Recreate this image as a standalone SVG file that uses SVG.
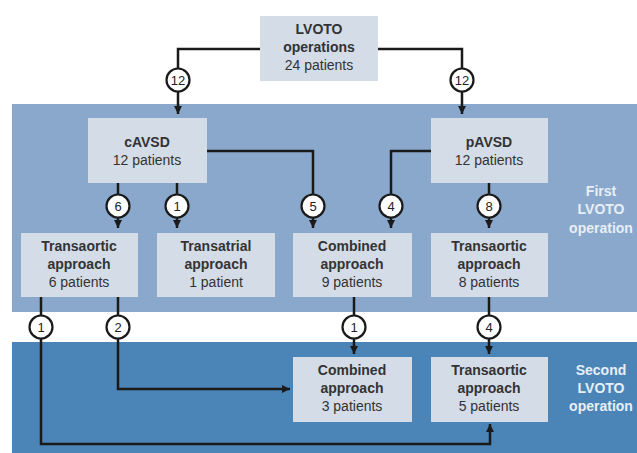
<svg xmlns="http://www.w3.org/2000/svg" width="637" height="453" viewBox="0 0 637 453">
<defs>
<style>
.box{fill:#d4dce7;}
.t{font-family:"Liberation Sans",Arial,sans-serif;font-size:14px;fill:#333;text-anchor:middle;}
.b{font-weight:bold;}
.lbl{font-family:"Liberation Sans",Arial,sans-serif;font-size:14px;font-weight:bold;fill:#e8eef6;text-anchor:middle;}
.ln{fill:none;stroke:#1a1a1a;stroke-width:2.5;}
.c{fill:#fff;stroke:#1a1a1a;stroke-width:2.2;}
.n{font-family:"Liberation Sans",Arial,sans-serif;font-size:13px;fill:#222;text-anchor:middle;}
</style>
<marker id="ah" markerUnits="userSpaceOnUse" markerWidth="10" markerHeight="10" viewBox="0 0 10 10" refX="9" refY="5" orient="auto">
<path d="M1,1 L9,5 L1,9 Z" fill="#1a1a1a"/>
</marker>
</defs>
<rect x="0" y="0" width="637" height="453" fill="#fff"/>
<rect x="12" y="104" width="625" height="208" fill="#8aa8cc"/>
<rect x="12" y="342" width="625" height="111" fill="#4b85b7"/>
<text class="lbl" x="601" y="196">First</text>
<text class="lbl" x="601" y="214">LVOTO</text>
<text class="lbl" x="601" y="233">operation</text>
<text class="lbl" x="601" y="375">Second</text>
<text class="lbl" x="601" y="393">LVOTO</text>
<text class="lbl" x="601" y="411">operation</text>
<g id="connectors">
<path class="ln" d="M260,49 H178 V114" marker-end="url(#ah)"/>
<path class="ln" d="M378,49 H462 V114" marker-end="url(#ah)"/>
<path class="ln" d="M118,183 V228" marker-end="url(#ah)"/>
<path class="ln" d="M177,183 V228" marker-end="url(#ah)"/>
<path class="ln" d="M207,151 H313 V228" marker-end="url(#ah)"/>
<path class="ln" d="M431,151 H391 V228" marker-end="url(#ah)"/>
<path class="ln" d="M489,183 V228" marker-end="url(#ah)"/>
<path class="ln" d="M41,297 V444 H490 V424" marker-end="url(#ah)"/>
<path class="ln" d="M118,297 V389 H290" marker-end="url(#ah)"/>
<path class="ln" d="M354,297 V354" marker-end="url(#ah)"/>
<path class="ln" d="M489,297 V354" marker-end="url(#ah)"/>
<circle class="c" cx="178" cy="80" r="11.5"/><text class="n" x="178" y="85">12</text>
<circle class="c" cx="462" cy="80" r="11.5"/><text class="n" x="462" y="85">12</text>
<circle class="c" cx="118" cy="206" r="11.5"/><text class="n" x="118" y="211">6</text>
<circle class="c" cx="177" cy="206" r="11.5"/><text class="n" x="177" y="211">1</text>
<circle class="c" cx="313" cy="206" r="11.5"/><text class="n" x="313" y="211">5</text>
<circle class="c" cx="391" cy="206" r="11.5"/><text class="n" x="391" y="211">4</text>
<circle class="c" cx="489" cy="206" r="11.5"/><text class="n" x="489" y="211">8</text>
<circle class="c" cx="41" cy="327" r="11.5"/><text class="n" x="41" y="332">1</text>
<circle class="c" cx="118" cy="327" r="11.5"/><text class="n" x="118" y="332">2</text>
<circle class="c" cx="354" cy="327" r="11.5"/><text class="n" x="354" y="332">1</text>
<circle class="c" cx="489" cy="327" r="11.5"/><text class="n" x="489" y="332">4</text>
</g>
<g id="lvoto">
<rect class="box" x="260" y="16" width="118" height="65"/>
<text class="t b" x="319" y="34">LVOTO</text>
<text class="t b" x="319" y="52">operations</text>
<text class="t" x="319" y="70">24 patients</text>
</g>
<g id="cavsd">
<rect class="box" x="88" y="118" width="119" height="65"/>
<text class="t b" x="147" y="147">cAVSD</text>
<text class="t" x="147" y="165">12 patients</text>
</g>
<g id="pavsd">
<rect class="box" x="431" y="118" width="117" height="65"/>
<text class="t b" x="489" y="147">pAVSD</text>
<text class="t" x="489" y="165">12 patients</text>
</g>
<g id="transaortic1">
<rect class="box" x="21" y="233" width="117" height="64"/>
<text class="t b" x="79" y="251">Transaortic</text>
<text class="t b" x="79" y="269">approach</text>
<text class="t" x="79" y="287">6 patients</text>
</g>
<g id="transatrial">
<rect class="box" x="157" y="233" width="118" height="64"/>
<text class="t b" x="216" y="251">Transatrial</text>
<text class="t b" x="216" y="269">approach</text>
<text class="t" x="216" y="287">1 patient</text>
</g>
<g id="combined1">
<rect class="box" x="293" y="233" width="119" height="64"/>
<text class="t b" x="352" y="251">Combined</text>
<text class="t b" x="352" y="269">approach</text>
<text class="t" x="352" y="287">9 patients</text>
</g>
<g id="transaortic2">
<rect class="box" x="431" y="233" width="117" height="64"/>
<text class="t b" x="489" y="251">Transaortic</text>
<text class="t b" x="489" y="269">approach</text>
<text class="t" x="489" y="287">8 patients</text>
</g>
<g id="combined2">
<rect class="box" x="293" y="357" width="119" height="65"/>
<text class="t b" x="352" y="375">Combined</text>
<text class="t b" x="352" y="393">approach</text>
<text class="t" x="352" y="411">3 patients</text>
</g>
<g id="transaortic3">
<rect class="box" x="431" y="357" width="117" height="65"/>
<text class="t b" x="489" y="375">Transaortic</text>
<text class="t b" x="489" y="393">approach</text>
<text class="t" x="489" y="411">5 patients</text>
</g>
</svg>
